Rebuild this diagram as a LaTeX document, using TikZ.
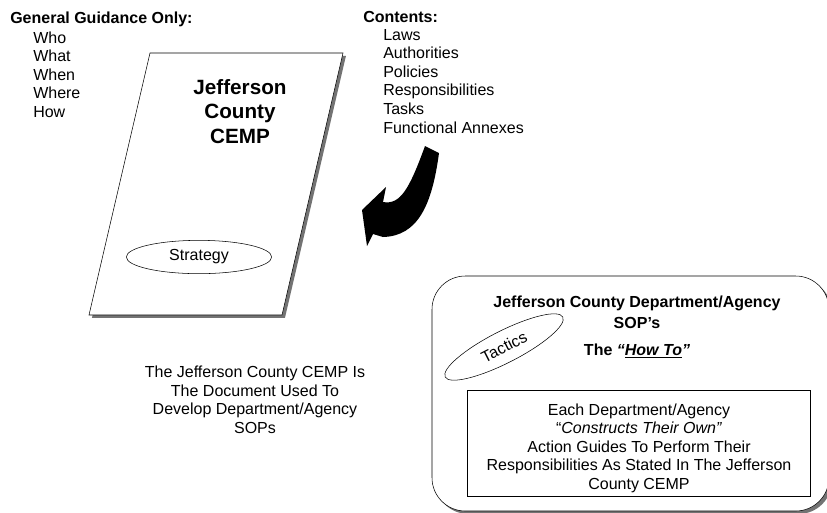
\documentclass[tikz,border=0pt]{standalone}
\usepackage{fontspec}
\setmainfont{Liberation Sans}
\usetikzlibrary{shapes.geometric,shadows,positioning}

\begin{document}
\begin{tikzpicture}[x=0.75pt,y=-0.75pt,
    txt/.style={inner sep=0pt,font=\fontsize{12}{13.9}\selectfont},
    hdr/.style={inner sep=0pt,font=\fontsize{12}{13.9}\selectfont\bfseries},
    oval/.style={ellipse,draw,fill=white,inner sep=0pt,font=\fontsize{12}{13.9}\selectfont},
    shade/.style={drop shadow={shadow xshift=2.2pt,shadow yshift=-2.2pt,fill=black!55,opacity=1}}]
    \useasboundingbox (0,0) rectangle (827,512);

    % Lists at the top
    \node[hdr,anchor=base west] (guide) at (10,23.5) {General Guidance Only:};
    \foreach \w [count=\i] in {Who,What,When,Where,How}
        \node[txt,anchor=base west] (g\i) at (33,{24.4+18.6*\i}) {\w};
    \node[hdr,anchor=base west] (cont) at (363,22) {Contents:};
    \foreach \w [count=\i] in {Laws,Authorities,Policies,Responsibilities,Tasks,Functional Annexes}
        \node[txt,anchor=base west] (c\i) at (383,{21.4+18.6*\i}) {\w};

    % The plan document
    \draw[fill=white,shade] (150,53) -- (343,53) -- (282,315) -- (89,315) -- cycle;
    \node[inner sep=0pt,align=center,anchor=north,font=\fontsize{15.5}{18.4}\selectfont\bfseries] (cemp) at (240,79) {Jefferson\\County\\CEMP};
    \node[oval,minimum width=109pt,minimum height=25pt] (strat) at (199,257) {Strategy};
    \node[txt,align=center,anchor=north] (use) at (255,366) {The Jefferson County CEMP Is\\The Document Used To\\Develop Department/Agency\\SOPs};

    % Curved arrow
    \fill (425,146) -- (439,153) .. controls (432,205) and (418,236) .. (383,237)
        -- (373,234) -- (367,246) -- (362,210) -- (386,187) -- (383,202)
        .. controls (400,205) and (409,190) .. (425,146) -- cycle;

    % SOP box
    \node[draw,fill=white,shade,rounded corners=25pt,minimum width=297.75pt,minimum height=176.25pt] (sop) at (630.5,393.5) {};
    \node[hdr,align=center,anchor=north] (sopt) at (637,295.3) {Jefferson County Department/Agency\\[2.3pt]SOP's};
    \node[hdr,anchor=base] (howto) at (637,355) {The \textit{``\underline{How To}''}};
    \node[oval,rotate=27,minimum width=99pt,minimum height=24pt] (tact) at (504,347) {Tactics};
    \node[draw,fill=white,minimum width=257.25pt,minimum height=79.5pt] (guides) at (638.5,443) {};
    \node[txt,align=center,anchor=north] (guidet) at (639,403.3) {Each Department/Agency\\``\textit{Constructs Their Own''}\\Action Guides To Perform Their\\Responsibilities As Stated In The Jefferson\\County CEMP};
\end{tikzpicture}
\end{document}
